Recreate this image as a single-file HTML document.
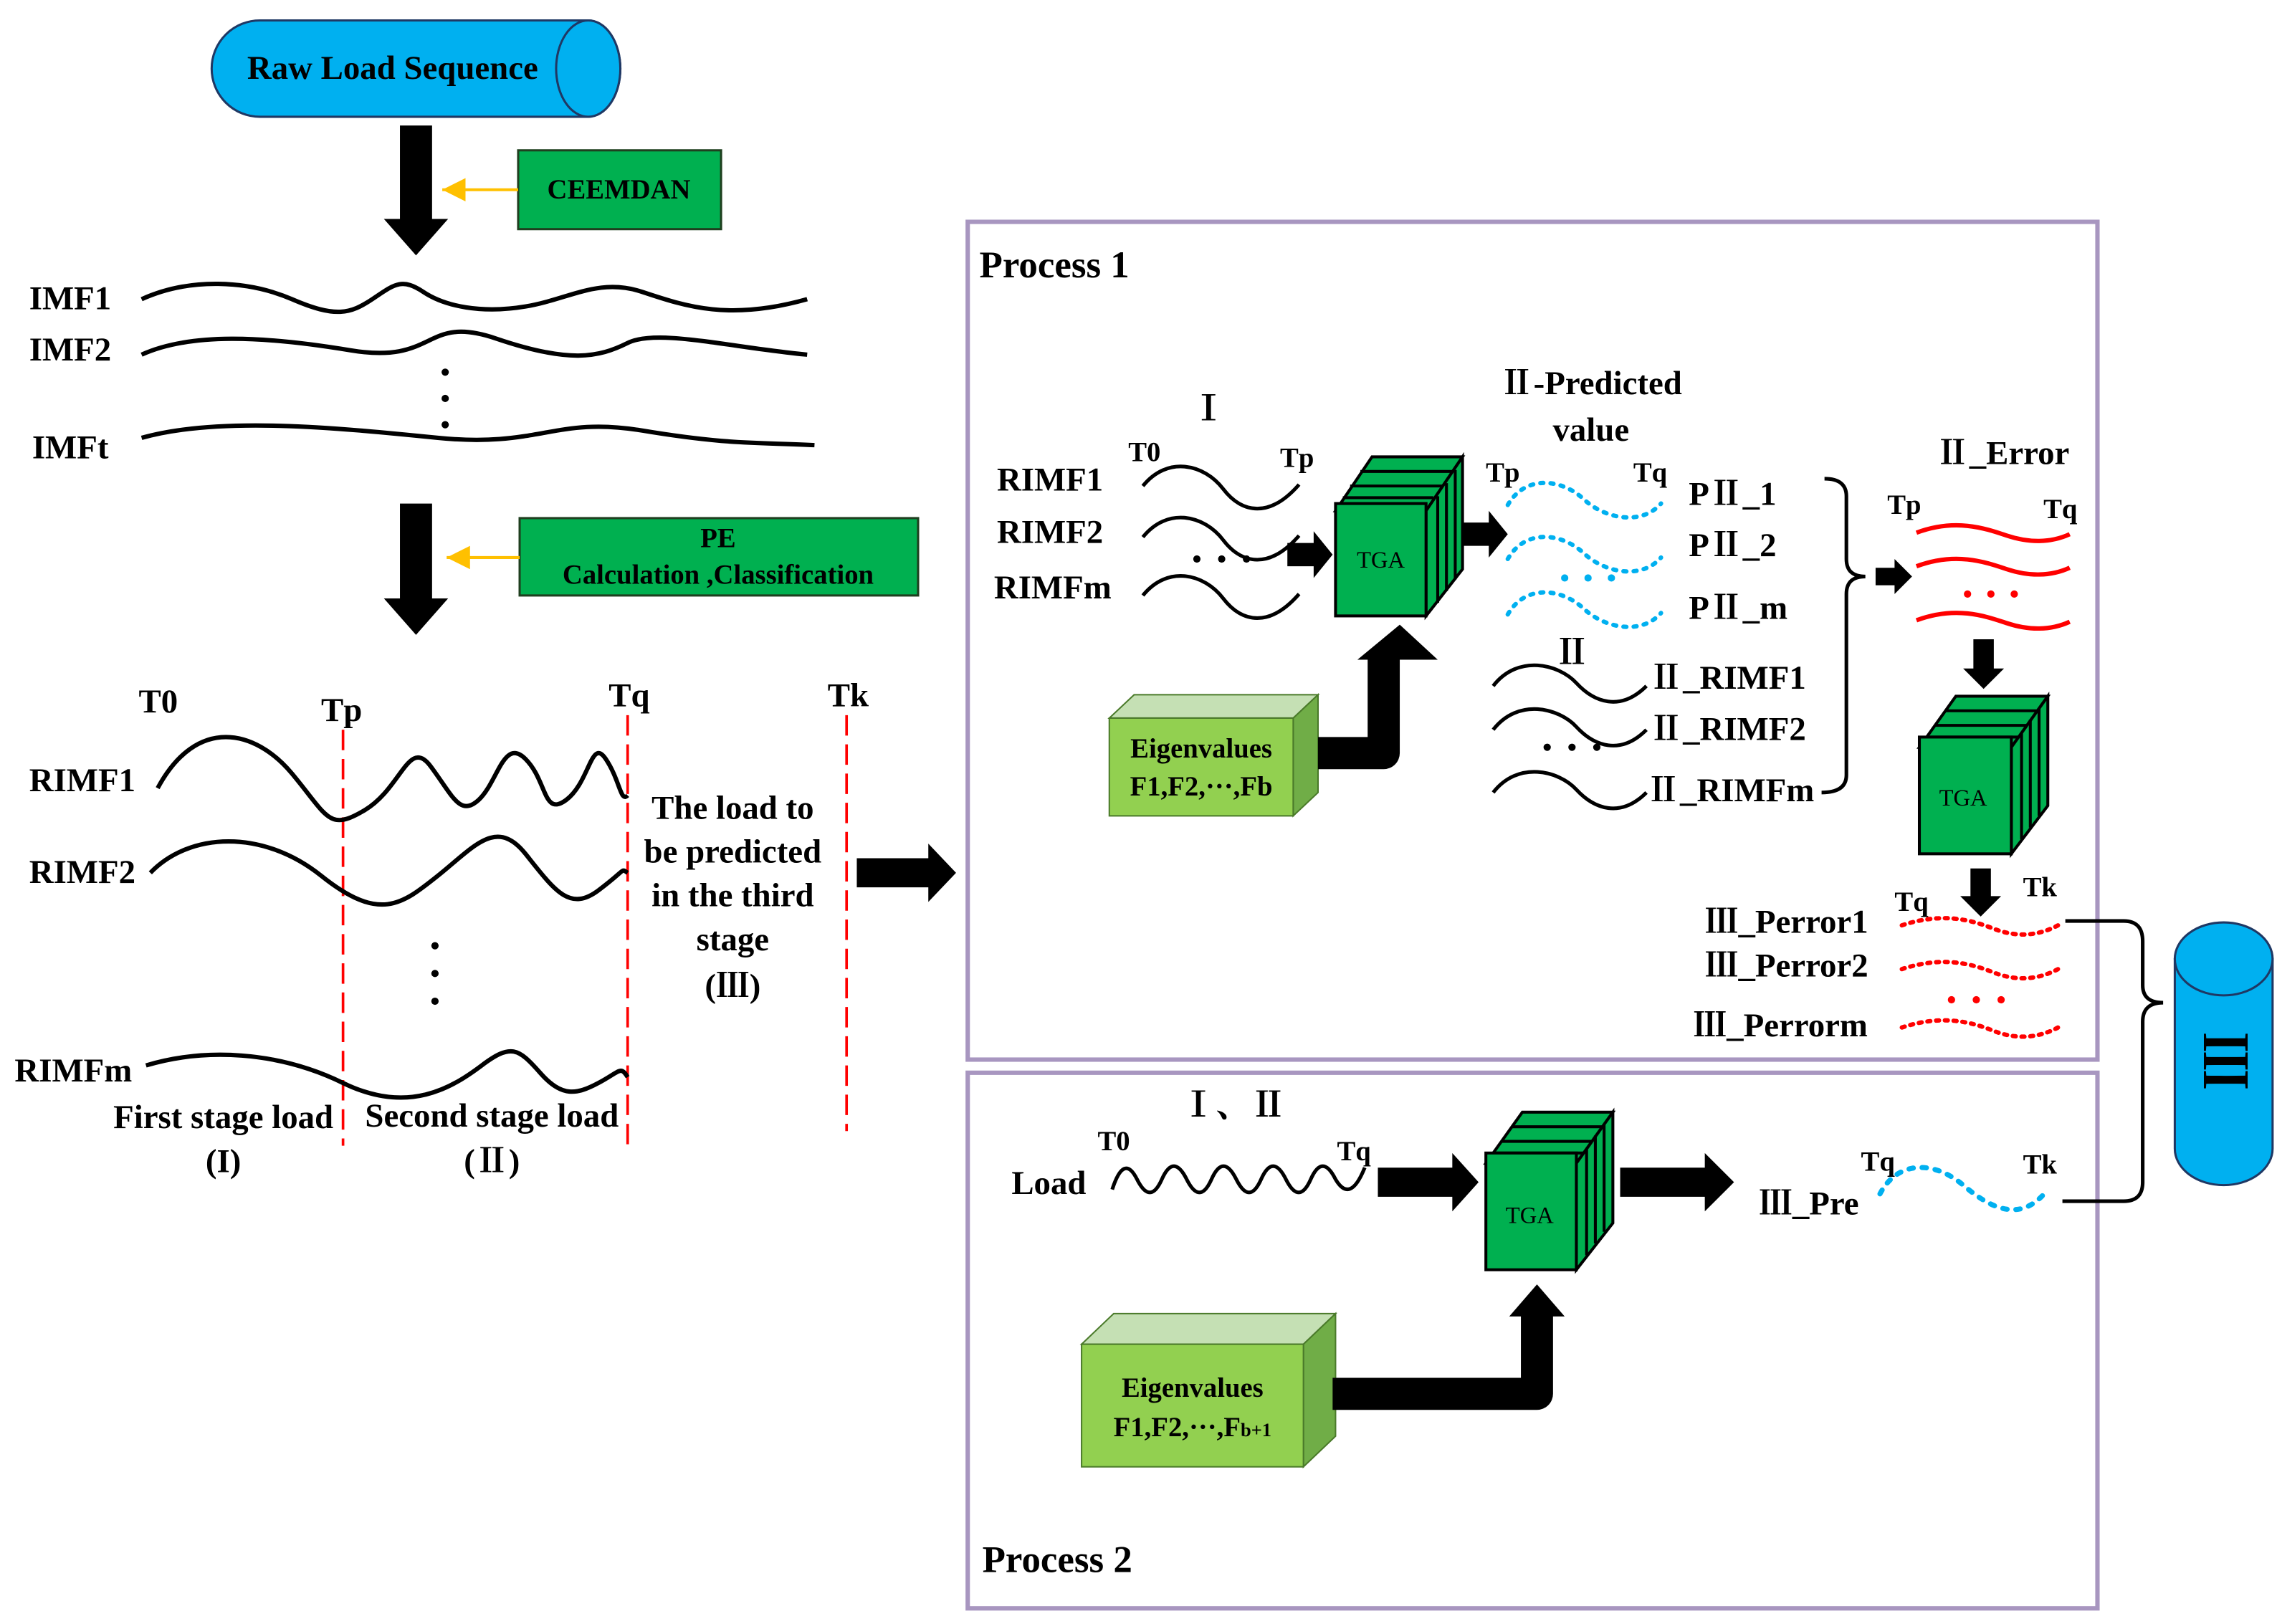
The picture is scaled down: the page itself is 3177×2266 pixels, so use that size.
<!DOCTYPE html>
<html><head><meta charset="utf-8"><style>
html,body{margin:0;padding:0;background:#fff;}
svg{display:block;}
text{font-family:"Liberation Serif","Noto Serif CJK SC",serif;font-weight:bold;fill:#000;}
</style></head><body>
<svg width="3177" height="2266" viewBox="0 0 1560 1112.7" xmlns="http://www.w3.org/2000/svg">
<defs>
<marker id="oa" markerWidth="8" markerHeight="8" refX="8" refY="4" orient="auto"><path d="M0,0 L8,4 L0,8 Z" fill="#FFC000"/></marker>
</defs>
<path d="M178,14 L403,14 A22,33 0 0 1 403,80 L178,80 A33,33 0 0 1 178,14 Z" fill="#00B0F0" stroke="#1F3864" stroke-width="1.5"/>
<ellipse cx="403" cy="47" rx="22" ry="33" fill="#00B0F0" stroke="#1F3864" stroke-width="1.5"/>
<text x="269" y="54" font-size="23" text-anchor="middle">Raw Load Sequence</text>
<path d="M274,86 H296 V150 H307 L285,175 L263,150 H274 Z" fill="#000"/>
<path d="M274,345 H296 V410 H307 L285,435 L263,410 H274 Z" fill="#000"/>
<rect x="355" y="103" width="139" height="54" fill="#00B050" stroke="#1F3F1F" stroke-width="1.5"/>
<text x="424" y="136" font-size="19" text-anchor="middle">CEEMDAN</text>
<line x1="355" y1="130" x2="303" y2="130" stroke="#FFC000" stroke-width="2" marker-end="url(#oa)"/>
<rect x="356" y="355" width="273" height="53" fill="#00B050" stroke="#1F3F1F" stroke-width="1.5"/>
<text x="492" y="375" font-size="19" text-anchor="middle">PE</text>
<text x="492" y="400" font-size="19" text-anchor="middle">Calculation ,Classification</text>
<line x1="356" y1="382" x2="306" y2="382" stroke="#FFC000" stroke-width="2" marker-end="url(#oa)"/>
<text x="20" y="212" font-size="23">IMF1</text>
<text x="20" y="247" font-size="23">IMF2</text>
<text x="22" y="314" font-size="23">IMFt</text>
<g fill="none" stroke="#000" stroke-width="3">
<path d="M97,205 C130,190 170,192 200,205 S240,215 255,205 S275,190 290,200 S330,215 360,210 S410,190 440,200 S500,220 553,205"/>
<path d="M97,243 C130,228 180,230 240,240 S290,215 340,232 S410,245 430,235 S500,238 553,243"/>
<path d="M97,300 C150,285 230,293 300,300 S380,285 440,295 S520,303 558,305"/>
</g>
<circle cx="305" cy="255" r="2.5"/><circle cx="305" cy="273" r="2.5"/><circle cx="305" cy="291" r="2.5"/>
<text x="95" y="488" font-size="23">T0</text>
<text x="220" y="494" font-size="23">Tp</text>
<text x="417" y="484" font-size="23">Tq</text>
<text x="567" y="484" font-size="23">Tk</text>
<g stroke="#FF0000" stroke-width="1.8" stroke-dasharray="14,6">
<line x1="235" y1="500" x2="235" y2="785"/><line x1="430" y1="490" x2="430" y2="785"/><line x1="580" y1="490" x2="580" y2="775"/></g>
<text x="20" y="542" font-size="23">RIMF1</text>
<text x="20" y="605" font-size="23">RIMF2</text>
<text x="10" y="741" font-size="23">RIMFm</text>
<g fill="none" stroke="#000" stroke-width="3">
<path d="M108,540 C135,490 175,500 200,530 S225,570 250,555 S280,505 295,525 S315,560 328,548 S345,505 360,520 S372,560 388,548 S405,505 415,520 S425,550 430,545"/>
<path d="M103,598 C130,570 180,568 220,600 S275,620 300,600 S340,560 360,585 S390,625 410,610 S425,595 430,598"/>
<path d="M100,730 C140,718 190,720 235,742 S310,745 330,730 S355,718 370,735 S395,750 410,742 S425,730 430,738"/>
</g>
<circle cx="298" cy="648" r="2.5"/><circle cx="298" cy="667" r="2.5"/><circle cx="298" cy="686" r="2.5"/>
<text x="153" y="773" font-size="23" text-anchor="middle">First stage load</text>
<text x="153" y="803" font-size="23" text-anchor="middle">(I)</text>
<text x="337" y="772" font-size="23" text-anchor="middle">Second stage load</text>
<text x="337" y="803" font-size="23" text-anchor="middle">(Ⅱ)</text>
<g font-size="23" text-anchor="middle">
<text x="502" y="561">The load to</text><text x="502" y="591">be predicted</text><text x="502" y="621">in the third</text><text x="502" y="651">stage</text><text x="502" y="683">(Ⅲ)</text></g>
<path d="M587,588 H636 V578 L655,598 L636,618 V608 H587 Z" fill="#000"/>
<rect x="663" y="152" width="774" height="574" fill="none" stroke="#A896C0" stroke-width="3"/>
<rect x="663" y="735" width="774" height="367" fill="none" stroke="#A896C0" stroke-width="3"/>
<text x="671" y="190" font-size="26">Process 1</text>
<text x="673" y="1077" font-size="26">Process 2</text>
<text x="828" y="288" font-size="24" text-anchor="middle">Ⅰ</text>
<text x="683" y="336" font-size="23">RIMF1</text>
<text x="683" y="372" font-size="23">RIMF2</text>
<text x="681" y="410" font-size="23">RIMFm</text>
<text x="773" y="316" font-size="19">T0</text>
<text x="877" y="320" font-size="19">Tp</text>
<g fill="none" stroke="#000" stroke-width="2.5">
<path d="M783,333 C800,312 825,318 838,335 S870,355 890,332"/>
<path d="M783,368 C800,347 825,353 838,370 S870,390 890,367"/>
<path d="M783,408 C800,387 825,393 838,410 S870,430 890,407"/>
</g>
<circle cx="820" cy="383" r="2.5"/><circle cx="837" cy="383" r="2.5"/><circle cx="854" cy="383" r="2.5"/>
<path d="M882,372 H900 V364 L913,380 L900,396 V388 H882 Z" fill="#000"/>
<g stroke="#000" stroke-width="2" fill="#00B050">
<path d="M940,313 H1002 L977,350 H915 Z"/>
<path d="M977,350 L1002,313 V390 L977,422 Z"/>
<path d="M932,323 H995 M925,333 H988 M920,341 H982"/>
<path d="M985,340 V413 M991,331 V405 M997,322 V397" fill="none"/>
<rect x="915" y="345" width="62" height="77"/>
</g>
<text x="946" y="389" font-size="16" text-anchor="middle" style="font-weight:normal">TGA</text>
<path d="M760,492 L777,476 H903 L886,492 Z" fill="#C5E0B4" stroke="#4A7A2A" stroke-width="1"/>
<path d="M886,492 L903,476 V543 L886,559 Z" fill="#70AD47" stroke="#4A7A2A" stroke-width="1"/>
<rect x="760" y="492" width="126" height="67" fill="#92D050" stroke="#4A7A2A" stroke-width="1"/>
<text x="823" y="519" font-size="19" text-anchor="middle">Eigenvalues</text>
<text x="823" y="545" font-size="19" text-anchor="middle">F1,F2,···,Fb</text>
<path d="M903,516 H948 V450" fill="none" stroke="#000" stroke-width="22" stroke-linejoin="round"/>
<path d="M937,452 H930 L959,428 L985,452 Z" fill="#000"/>
<path d="M1002,358 H1020 V350 L1033,366 L1020,382 V374 H1002 Z" fill="#000"/>
<text x="1090" y="270" font-size="23" text-anchor="middle">Ⅱ-Predicted</text>
<text x="1090" y="302" font-size="23" text-anchor="middle">value</text>
<text x="1018" y="330" font-size="19">Tp</text>
<text x="1119" y="330" font-size="19">Tq</text>
<g fill="none" stroke="#00B0F0" stroke-width="3" stroke-dasharray="2,5" stroke-linecap="round">
<path d="M1033,346 C1045,325 1070,328 1085,342 S1125,360 1138,345"/>
<path d="M1033,383 C1045,362 1070,365 1085,379 S1125,397 1138,382"/>
<path d="M1033,421 C1045,400 1070,403 1085,417 S1125,435 1138,420"/>
</g>
<g fill="#00B0F0"><circle cx="1072" cy="396" r="2.5"/><circle cx="1088" cy="396" r="2.5"/><circle cx="1104" cy="396" r="2.5"/></g>
<text x="1157" y="346" font-size="23">PⅡ_1</text>
<text x="1157" y="381" font-size="23">PⅡ_2</text>
<text x="1157" y="424" font-size="23">PⅡ_m</text>
<text x="1077" y="455" font-size="24" text-anchor="middle">Ⅱ</text>
<g fill="none" stroke="#000" stroke-width="2.5">
<path d="M1023,470 C1040,448 1068,455 1080,468 S1110,488 1128,470"/>
<path d="M1023,500 C1040,478 1068,485 1080,498 S1110,518 1128,500"/>
<path d="M1023,543 C1040,521 1068,528 1080,541 S1110,561 1128,543"/>
</g>
<circle cx="1060" cy="512" r="2.5"/><circle cx="1077" cy="512" r="2.5"/><circle cx="1094" cy="512" r="2.5"/>
<text x="1130" y="472" font-size="23">Ⅱ_RIMF1</text>
<text x="1130" y="507" font-size="23">Ⅱ_RIMF2</text>
<text x="1128" y="549" font-size="23">Ⅱ_RIMFm</text>
<path d="M1250,328 Q1265,328 1265,340 V383 Q1265,395 1278,395 Q1265,395 1265,407 V531 Q1265,543 1248,543" fill="none" stroke="#000" stroke-width="2.5"/>
<path d="M1285,389 H1298 V383 L1310,395 L1298,407 V401 H1285 Z" fill="#000"/>
<text x="1372" y="318" font-size="23" text-anchor="middle">Ⅱ_Error</text>
<text x="1293" y="352" font-size="19">Tp</text>
<text x="1400" y="355" font-size="19">Tq</text>
<g fill="none" stroke="#FF0000" stroke-width="3">
<path d="M1313,365 C1340,355 1360,362 1375,367 S1405,372 1418,366"/>
<path d="M1313,388 C1340,378 1360,385 1375,390 S1405,395 1418,389"/>
<path d="M1313,425 C1340,415 1360,422 1375,427 S1405,432 1418,426"/>
</g>
<g fill="#FF0000"><circle cx="1348" cy="407" r="2.5"/><circle cx="1364" cy="407" r="2.5"/><circle cx="1380" cy="407" r="2.5"/></g>
<path d="M1352,438 H1366 V458 H1373 L1359,472 L1345,458 H1352 Z" fill="#000"/>
<g stroke="#000" stroke-width="2" fill="#00B050">
<path d="M1340,477 H1403 L1378,512 H1315 Z"/>
<path d="M1378,512 L1403,477 V552 L1378,585 Z"/>
<path d="M1333,487 H1396 M1326,497 H1389 M1320,505 H1383" fill="none"/>
<path d="M1385,502 V575 M1391,493 V567 M1397,485 V559" fill="none"/>
<rect x="1315" y="505" width="63" height="80"/>
</g>
<text x="1345" y="552" font-size="16" text-anchor="middle" style="font-weight:normal">TGA</text>
<path d="M1350,595 H1364 V614 H1371 L1357,628 L1343,614 H1350 Z" fill="#000"/>
<text x="1298" y="624" font-size="19">Tq</text>
<text x="1386" y="614" font-size="19">Tk</text>
<text x="1168" y="639" font-size="23">Ⅲ_Perror1</text>
<text x="1168" y="669" font-size="23">Ⅲ_Perror2</text>
<text x="1160" y="710" font-size="23">Ⅲ_Perrorm</text>
<g fill="none" stroke="#FF0000" stroke-width="3" stroke-dasharray="2,4" stroke-linecap="round">
<path d="M1303,634 C1330,625 1350,630 1365,636 S1395,642 1410,634"/>
<path d="M1303,664 C1330,655 1350,660 1365,666 S1395,672 1410,664"/>
<path d="M1303,704 C1330,695 1350,700 1365,706 S1395,712 1410,704"/>
</g>
<g fill="#FF0000"><circle cx="1337" cy="685" r="2.5"/><circle cx="1354" cy="685" r="2.5"/><circle cx="1371" cy="685" r="2.5"/></g>
<path d="M1415,631 H1455 Q1468,631 1468,645 V675 Q1468,687 1482,687 Q1468,687 1468,700 V810 Q1468,823 1455,823 H1413" fill="none" stroke="#000" stroke-width="2.5"/>
<path d="M1490,657 V787 A33.5,25 0 0 0 1557,787 V657 Z" fill="#00B0F0" stroke="#1F3864" stroke-width="1.5"/>
<ellipse cx="1523.5" cy="657" rx="33.5" ry="25" fill="#00B0F0" stroke="#1F3864" stroke-width="1.5"/>
<text x="0" y="0" font-size="40" text-anchor="middle" transform="translate(1510,727) rotate(90)">Ⅲ</text>
<text x="845" y="765" font-size="24" text-anchor="middle">Ⅰ、Ⅱ</text>
<text x="693" y="818" font-size="23">Load</text>
<text x="752" y="788" font-size="19">T0</text>
<text x="916" y="795" font-size="19">Tq</text>
<path d="M762,815 Q770,790 779,808 T796,808 T813,808 T830,808 T847,808 T864,808 T881,808 T898,808 T915,808 Q925,825 935,800" fill="none" stroke="#000" stroke-width="2.5"/>
<path d="M944,800 H995 V790 L1013,810 L995,830 V820 H944 Z" fill="#000"/>
<g stroke="#000" stroke-width="2" fill="#00B050">
<path d="M1043,762 H1105 L1080,797 H1018 Z"/>
<path d="M1080,797 L1105,762 V838 L1080,870 Z"/>
<path d="M1036,772 H1098 M1029,782 H1091 M1023,790 H1085" fill="none"/>
<path d="M1087,787 V860 M1093,778 V852 M1099,770 V844" fill="none"/>
<rect x="1018" y="790" width="62" height="80"/>
</g>
<text x="1048" y="838" font-size="16" text-anchor="middle" style="font-weight:normal">TGA</text>
<path d="M1110,800 H1168 V790 L1188,810 L1168,830 V820 H1110 Z" fill="#000"/>
<path d="M741,921 L763,900 H915 L893,921 Z" fill="#C5E0B4" stroke="#4A7A2A" stroke-width="1"/>
<path d="M893,921 L915,900 V984 L893,1005 Z" fill="#70AD47" stroke="#4A7A2A" stroke-width="1"/>
<rect x="741" y="921" width="152" height="84" fill="#92D050" stroke="#4A7A2A" stroke-width="1"/>
<text x="817" y="957" font-size="19" text-anchor="middle">Eigenvalues</text>
<text x="817" y="984" font-size="19" text-anchor="middle">F1,F2,···,F<tspan font-size="13">b+1</tspan></text>
<path d="M913,955 H1053 V900" fill="none" stroke="#000" stroke-width="22" stroke-linejoin="round"/>
<path d="M1042,902 H1034 L1053,880 L1072,902 Z" fill="#000"/>
<text x="1205" y="832" font-size="23">Ⅲ_Pre</text>
<text x="1275" y="802" font-size="19">Tq</text>
<text x="1386" y="804" font-size="19">Tk</text>
<path d="M1288,818 C1300,795 1325,795 1345,812 S1385,838 1403,815" fill="none" stroke="#00B0F0" stroke-width="3.5" stroke-dasharray="3,6" stroke-linecap="round"/>
</svg>
</body></html>
